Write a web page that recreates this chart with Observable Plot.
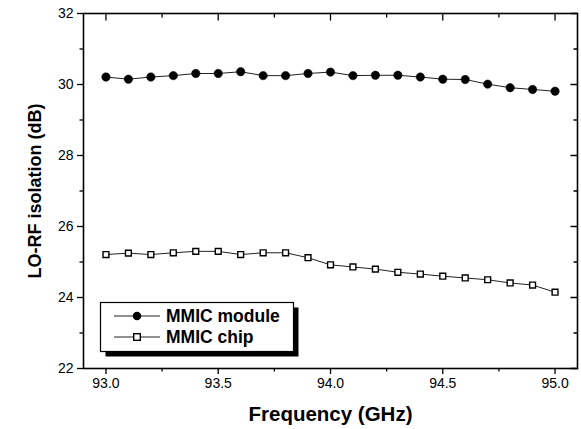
<!DOCTYPE html>
<html>
<head>
<meta charset="utf-8">
<script src="https://cdn.jsdelivr.net/npm/d3@7"></script>
<script src="https://cdn.jsdelivr.net/npm/@observablehq/plot@0.6"></script>
<style>
  html, body { margin: 0; padding: 0; background: #fff; }
  #chart { position: relative; width: 581px; height: 429px; }
</style>
</head>
<body>
<div id="chart"></div>
<script>
const frequency = [93.0, 93.1, 93.2, 93.3, 93.4, 93.5, 93.6, 93.7, 93.8, 93.9, 94.0,
                   94.1, 94.2, 94.3, 94.4, 94.5, 94.6, 94.7, 94.8, 94.9, 95.0];
const moduleIso = [30.21, 30.15, 30.21, 30.25, 30.31, 30.31, 30.36, 30.25, 30.25, 30.31, 30.35,
                   30.25, 30.26, 30.26, 30.21, 30.15, 30.14, 30.01, 29.91, 29.86, 29.81];
const chipIso   = [25.21, 25.25, 25.21, 25.26, 25.30, 25.30, 25.21, 25.26, 25.26, 25.12, 24.92,
                   24.86, 24.80, 24.71, 24.66, 24.60, 24.55, 24.50, 24.41, 24.35, 24.15];
const seriesNames = ["MMIC module", "MMIC chip"];
const xMajor = [93.0, 93.5, 94.0, 94.5, 95.0];
const xMinor = [93.25, 93.75, 94.25, 94.75];
const yMajor = [22, 24, 26, 28, 30, 32];
const yMinor = [23, 25, 27, 29, 31];
const xLabel = "Frequency (GHz)";
const yLabel = "LO-RF isolation (dB)";

const moduleData = frequency.map((f, i) => ({f, v: moduleIso[i]}));
const chipData = frequency.map((f, i) => ({f, v: chipIso[i]}));

const font = "'Liberation Sans', Arial, sans-serif";
const tickShape = {draw(context, l) { context.moveTo(0, 0); context.lineTo(0, -l); }};

const plot = Plot.plot({
  width: 581,
  height: 429,
  marginLeft: 83,
  marginRight: 4,
  marginTop: 13,
  marginBottom: 61,
  style: {fontFamily: font, fontSize: "14px", color: "#000", background: "#fff"},
  x: {domain: [92.9, 95.1]},
  y: {domain: [22, 32]},
  marks: [
    Plot.axisX({anchor: "bottom", ticks: xMajor, tickSize: 6, tickPadding: 4, tickFormat: d3.format(".1f"),
                label: xLabel, labelAnchor: "center", labelArrow: "none", labelOffset: 52,
                fontSize: 14, strokeWidth: 1.3}),
    Plot.axisX({anchor: "bottom", ticks: xMinor, tickSize: 3.5, tickFormat: () => "", label: null, strokeWidth: 1.3}),
    Plot.axisY({anchor: "left", ticks: yMajor, tickSize: 6, tickPadding: 4, tickFormat: d3.format("d"),
                label: null, fontSize: 14, strokeWidth: 1.3}),
    Plot.axisY({anchor: "left", ticks: yMinor, tickSize: 3.5, tickFormat: () => "", label: null, strokeWidth: 1.3}),
    Plot.vector(xMajor, {x: d => d, frameAnchor: "top", length: 6.5, rotate: 180, anchor: "start", shape: tickShape, stroke: "#000", strokeWidth: 1.3}),
    Plot.vector(xMinor, {x: d => d, frameAnchor: "top", length: 3.5, rotate: 180, anchor: "start", shape: tickShape, stroke: "#000", strokeWidth: 1.3}),
    Plot.vector(yMajor, {y: d => d, frameAnchor: "right", length: 6.5, rotate: -90, anchor: "start", shape: tickShape, stroke: "#000", strokeWidth: 1.3}),
    Plot.vector(yMinor, {y: d => d, frameAnchor: "right", length: 3.5, rotate: -90, anchor: "start", shape: tickShape, stroke: "#000", strokeWidth: 1.3}),
    Plot.frame({stroke: "#000", strokeWidth: 1.6}),
    Plot.line(moduleData, {x: "f", y: "v", stroke: "#222", strokeWidth: 1}),
    Plot.dot(moduleData, {x: "f", y: "v", r: 4.2, fill: "#000", stroke: "#000", strokeWidth: 0.5}),
    Plot.line(chipData, {x: "f", y: "v", stroke: "#222", strokeWidth: 1}),
    Plot.dot(chipData, {x: "f", y: "v", symbol: "square", r: 3.3, fill: "#fff", stroke: "#000", strokeWidth: 1.4})
  ]
});

document.getElementById("chart").appendChild(plot);

const svg = d3.select(plot);
svg.selectAll("g[aria-label='x-axis label'] text")
  .attr("font-weight", "bold").attr("font-size", "20.5px");

svg.append("text")
  .attr("transform", "translate(41,191) rotate(-90)")
  .attr("text-anchor", "middle")
  .attr("font-family", font)
  .attr("font-weight", "bold")
  .attr("font-size", "18px")
  .attr("fill", "#000")
  .text(yLabel);

const lg = svg.append("g").attr("font-family", font).attr("text-anchor", "start");
const bx = 100.5, by = 302.5, bw = 193, bh = 49;
lg.append("rect").attr("x", bx + 5).attr("y", by + 5).attr("width", bw).attr("height", bh).attr("fill", "#000");
lg.append("rect").attr("x", bx).attr("y", by).attr("width", bw).attr("height", bh)
  .attr("fill", "#fff").attr("stroke", "#000").attr("stroke-width", 1.2);
const rows = [316, 337];
seriesNames.forEach((name, i) => {
  const yy = rows[i];
  lg.append("line").attr("x1", 114).attr("x2", 160).attr("y1", yy).attr("y2", yy)
    .attr("stroke", "#222").attr("stroke-width", 1);
  if (i === 0) {
    lg.append("circle").attr("cx", 137).attr("cy", yy).attr("r", 4.2).attr("fill", "#000");
  } else {
    lg.append("rect").attr("x", 137 - 3.3).attr("y", yy - 3.3).attr("width", 6.6).attr("height", 6.6)
      .attr("fill", "#fff").attr("stroke", "#000").attr("stroke-width", 1.4);
  }
  lg.append("text").attr("x", 166).attr("y", yy).attr("dy", "0.36em")
    .attr("font-weight", "bold").attr("font-size", "17.5px").attr("fill", "#000").text(name);
});
</script>
</body>
</html>
